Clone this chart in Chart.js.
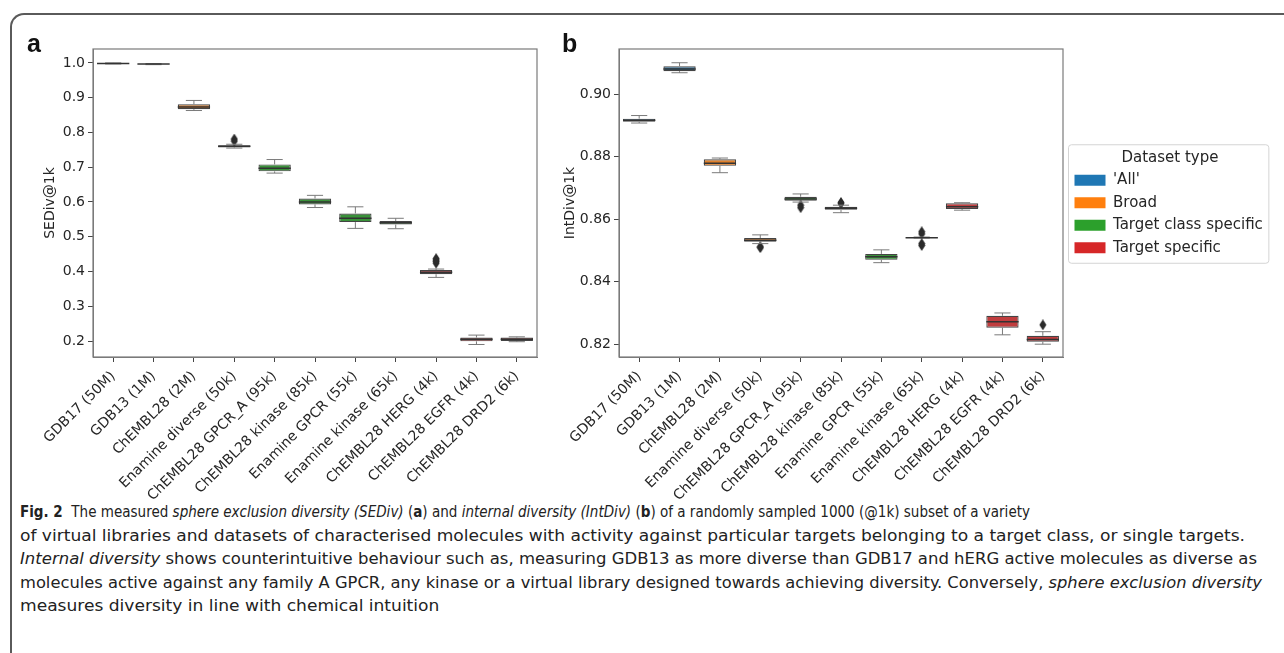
<!DOCTYPE html>
<html>
<head>
<meta charset="utf-8">
<script src="https://cdn.jsdelivr.net/npm/chart.js@4.4.1/dist/chart.umd.min.js"></script>
<style>
  html, body { margin: 0; padding: 0; background: #fff; }
  #page { position: relative; width: 1284px; height: 653px; overflow: hidden; background: #fff; }
  #frame { position: absolute; left: 10px; top: 13px; width: 1400px; height: 800px;
           border-top: 2px solid #5a5a5a; border-left: 2px solid #5a5a5a; border-top-left-radius: 14px; }
  .panel { position: absolute; top: 0; height: 500px; }
  #wrapA { left: 0; width: 560px; }
  #wrapB { left: 548px; width: 736px; }
  .tag { position: absolute; font: bold 25px "Liberation Sans", Arial, sans-serif; color: #111; line-height: 25px; }
  #caption { position: absolute; left: 20px; top: 500px; color: #222;
             font-family: "DejaVu Sans Condensed", "Liberation Sans Narrow", "DejaVu Sans", sans-serif; font-size: 16.5px; }
  #caption div { white-space: nowrap; height: 23.5px; line-height: 23.5px; transform-origin: left center; }
</style>
</head>
<body>
<div id="page">
  <div id="frame"></div>
  <div class="panel" id="wrapA"><canvas id="chartA"></canvas></div>
  <div class="panel" id="wrapB"><canvas id="chartB"></canvas></div>
  <div class="tag" style="left:27px; top:31px;">a</div>
  <div class="tag" style="left:562px; top:31px;">b</div>
  <div id="caption">
    <div><b>Fig. 2</b>&nbsp; The measured <i>sphere exclusion diversity (SEDiv)</i> (<b>a</b>) and <i>internal diversity (IntDiv)</i> (<b>b</b>) of a randomly sampled 1000 (@1k) subset of a variety</div>
    <div>of virtual libraries and datasets of characterised molecules with activity against particular targets belonging to a target class, or single targets.</div>
    <div><i>Internal diversity</i> shows counterintuitive behaviour such as, measuring GDB13 as more diverse than GDB17 and hERG active molecules as diverse as</div>
    <div>molecules active against any family A GPCR, any kinase or a virtual library designed towards achieving diversity. Conversely, <i>sphere exclusion diversity</i></div>
    <div>measures diversity in line with chemical intuition</div>
  </div>
</div>
<script>
// ---- data ----
const categories = ['GDB17 (50M)', 'GDB13 (1M)', 'ChEMBL28 (2M)', 'Enamine diverse (50k)',
  'ChEMBL28 GPCR_A (95k)', 'ChEMBL28 kinase (85k)', 'Enamine GPCR (55k)', 'Enamine kinase (65k)',
  'ChEMBL28 HERG (4k)', 'ChEMBL28 EGFR (4k)', 'ChEMBL28 DRD2 (6k)'];
const datasetTypes = ["'All'", 'Broad', 'Target class specific', 'Target specific'];
const categoryType = [0, 0, 1, 1, 2, 2, 2, 2, 3, 3, 3];
const boxColors = ['#3274a1', '#e1812c', '#3a923a', '#c03d3e'];
const legendColors = ['#1f77b4', '#ff7f0e', '#2ca02c', '#d62728'];

// panel a: SEDiv@1k
const sedLow  = [0.997, 0.995, 0.863, 0.755, 0.683, 0.584, 0.524, 0.523, 0.383, 0.190, 0.198];
const sedQ1   = [0.998, 0.996, 0.867, 0.757, 0.688, 0.593, 0.542, 0.535, 0.392, 0.199, 0.200];
const sedMed  = [0.9985, 0.9965, 0.873, 0.760, 0.697, 0.600, 0.553, 0.540, 0.398, 0.205, 0.205];
const sedQ3   = [0.999, 0.997, 0.881, 0.763, 0.708, 0.610, 0.567, 0.545, 0.404, 0.210, 0.210];
const sedHigh = [1.000, 0.998, 0.892, 0.766, 0.722, 0.619, 0.586, 0.553, 0.407, 0.217, 0.212];
const sedOutliers = [[], [], [], [0.775, 0.781], [], [], [], [], [0.424, 0.429, 0.433, 0.437], [], []];
const sedTicks = [0.2, 0.3, 0.4, 0.5, 0.6, 0.7, 0.8, 0.9, 1.0];
const sedTickLabels = ['0.2', '0.3', '0.4', '0.5', '0.6', '0.7', '0.8', '0.9', '1.0'];

// panel b: IntDiv@1k
const intLow  = [0.8908, 0.9069, 0.8749, 0.8522, 0.8655, 0.8621, 0.8461, 0.8540, 0.8629, 0.8230, 0.8200];
const intQ1   = [0.8912, 0.9074, 0.8771, 0.8528, 0.8659, 0.8630, 0.8470, 0.8541, 0.8633, 0.8253, 0.8208];
const intMed  = [0.8917, 0.9081, 0.8779, 0.8533, 0.8665, 0.8635, 0.8480, 0.8541, 0.8640, 0.8272, 0.8215];
const intQ3   = [0.8922, 0.9090, 0.8792, 0.8540, 0.8672, 0.8640, 0.8489, 0.8542, 0.8651, 0.8291, 0.8227];
const intHigh = [0.8932, 0.9101, 0.8796, 0.8550, 0.8681, 0.8645, 0.8502, 0.8543, 0.8653, 0.8300, 0.8240];
const intOutliers = [[], [], [], [0.8512, 0.8509], [0.8645, 0.8637], [0.8654, 0.8650], [],
  [0.8560, 0.8553, 0.8522, 0.8516], [], [], [0.8262]];
const intTicks = [0.82, 0.84, 0.86, 0.88, 0.90];
const intTickLabels = ['0.82', '0.84', '0.86', '0.88', '0.90'];

// ---- helpers ----
Chart.defaults.font.family = '"DejaVu Sans", sans-serif';
Chart.defaults.color = '#262626';
const tickFont = { size: 14 };

// thin diamond marker, like seaborn's fliers
const diamond = document.createElement('canvas');
diamond.width = 8; diamond.height = 11;
(function () {
  const c = diamond.getContext('2d');
  c.fillStyle = '#2b2b2b';
  c.beginPath();
  c.moveTo(4, 0); c.lineTo(7.5, 5.5); c.lineTo(4, 11); c.lineTo(0.5, 5.5);
  c.closePath(); c.fill();
})();

function boxDatasets(q1, q3) {
  return datasetTypes.map((name, g) => ({
    type: 'bar',
    label: name,
    data: categories.map((c, i) => categoryType[i] === g ? [q1[i], q3[i]] : null),
    backgroundColor: boxColors[g],
    borderColor: '#444',
    borderWidth: 1.2,
    borderSkipped: false,
    grouped: false,
    barPercentage: 0.8,
    categoryPercentage: 1.0,
    order: 2
  }));
}

function flierDataset(outliers) {
  const pts = [];
  outliers.forEach((vals, i) => vals.forEach(v => pts.push({ x: categories[i], y: v })));
  return {
    type: 'line', label: 'outliers', data: pts, showLine: false,
    pointStyle: diamond, pointRadius: 5, order: 0
  };
}

// whiskers, caps and medians, placed through the chart's own scales
const whiskerPlugin = {
  id: 'whiskers',
  afterDatasetsDraw(chart, args, o) {
    const { ctx, scales: { x, y } } = chart;
    const step = x.getPixelForValue(1) - x.getPixelForValue(0);
    const half = step * 0.4, cap = step * 0.2;
    ctx.save();
    o.q1.forEach((q1, i) => {
      const cx = x.getPixelForValue(i);
      ctx.strokeStyle = '#7a7a7a';
      ctx.lineWidth = 1;
      ctx.beginPath();
      ctx.moveTo(cx, y.getPixelForValue(o.q3[i])); ctx.lineTo(cx, y.getPixelForValue(o.high[i]));
      ctx.moveTo(cx, y.getPixelForValue(q1)); ctx.lineTo(cx, y.getPixelForValue(o.low[i]));
      ctx.moveTo(cx - cap, y.getPixelForValue(o.high[i])); ctx.lineTo(cx + cap, y.getPixelForValue(o.high[i]));
      ctx.moveTo(cx - cap, y.getPixelForValue(o.low[i])); ctx.lineTo(cx + cap, y.getPixelForValue(o.low[i]));
      ctx.stroke();
      ctx.strokeStyle = '#333';
      ctx.lineWidth = 1.5;
      ctx.beginPath();
      ctx.moveTo(cx - half, y.getPixelForValue(o.med[i])); ctx.lineTo(cx + half, y.getPixelForValue(o.med[i]));
      ctx.stroke();
    });
    ctx.restore();
  }
};

const framePlugin = {
  id: 'frame',
  afterDraw(chart) {
    const { ctx, chartArea: a } = chart;
    ctx.save();
    ctx.strokeStyle = '#7a7a7a';
    ctx.lineWidth = 1.2;
    ctx.strokeRect(a.left, a.top, a.right - a.left, a.bottom - a.top);
    const lg = chart.legend;
    if (lg && lg.options.display && lg.legendHitBoxes && lg.legendHitBoxes.length) {
      const hb = lg.legendHitBoxes;
      const l = hb[0].left - 6, t = hb[0].top - 28;
      const r = lg.right - 4, b = hb[hb.length - 1].top + hb[hb.length - 1].height + 8;
      ctx.strokeStyle = '#d4d4d4';
      ctx.lineWidth = 1;
      ctx.beginPath();
      ctx.roundRect(l, t, r - l, b - t, 3);
      ctx.stroke();
    }
    ctx.restore();
  }
};

function yScale(min, max, ticks, tickLabels, title, width, titlePad) {
  return {
    min: min, max: max,
    afterBuildTicks: s => { s.ticks = ticks.map(v => ({ value: v })); },
    afterFit: s => { s.width = width; },
    ticks: { callback: (v, i) => tickLabels[i], font: tickFont, padding: 3 },
    grid: { drawOnChartArea: false, tickLength: 5, color: '#444' },
    border: { color: '#7a7a7a' },
    title: { display: true, text: title, font: { size: 14 }, padding: { top: titlePad, bottom: 0 } }
  };
}

const xScale = {
  type: 'category',
  offset: true,
  afterFit: s => { s.height = 143; },
  ticks: { autoSkip: false, maxRotation: 45, minRotation: 45, font: tickFont, padding: 6 },
  grid: { drawOnChartArea: false, offset: false, tickLength: 5, color: '#444' },
  border: { color: '#7a7a7a' }
};

// ---- panel a ----
new Chart(document.getElementById('chartA'), {
  type: 'bar',
  data: { labels: categories, datasets: [...boxDatasets(sedQ1, sedQ3), flierDataset(sedOutliers)] },
  options: {
    responsive: true, maintainAspectRatio: false, animation: false,
    layout: { padding: { top: 49, left: 30, right: 23, bottom: 0 } },
    plugins: {
      legend: { display: false },
      tooltip: { enabled: false },
      whiskers: { low: sedLow, q1: sedQ1, med: sedMed, q3: sedQ3, high: sedHigh }
    },
    scales: { x: xScale, y: yScale(0.154, 1.04, sedTicks, sedTickLabels, 'SEDiv@1k', 63, 12) }
  },
  plugins: [whiskerPlugin, framePlugin]
});

// ---- panel b ----
const legendSize = 15;
const mctx = document.createElement('canvas').getContext('2d');
mctx.font = legendSize + 'px "DejaVu Sans", sans-serif';
const maxTextW = Math.max(...datasetTypes.map(t => mctx.measureText(t).width));
const legendW = 7.5 + 31 + legendSize / 2 + maxTextW + 10;
const padRightB = Math.max(0, 736 - (1063 - 548) - 4 - legendW);

new Chart(document.getElementById('chartB'), {
  type: 'bar',
  data: { labels: categories, datasets: [...boxDatasets(intQ1, intQ3), flierDataset(intOutliers)] },
  options: {
    responsive: true, maintainAspectRatio: false, animation: false,
    layout: { padding: { top: 49, left: 10, right: padRightB, bottom: 0 } },
    plugins: {
      legend: {
        position: 'right', fullSize: false, align: 'center', maxWidth: 260,
        title: { display: true, text: 'Dataset type', font: { size: legendSize, lineHeight: 1.0 }, padding: { top: 7, bottom: 0 } },
        labels: {
          boxWidth: 31, boxHeight: 11, padding: 7.5, font: { size: legendSize },
          generateLabels: () => datasetTypes.map((t, g) => ({
            text: t, fillStyle: legendColors[g], strokeStyle: legendColors[g],
            lineWidth: 0, hidden: false, datasetIndex: g
          }))
        }
      },
      tooltip: { enabled: false },
      whiskers: { low: intLow, q1: intQ1, med: intMed, q3: intQ3, high: intHigh }
    },
    scales: {
      x: xScale,
      y: yScale(0.8159, 0.9145, intTicks, intTickLabels, 'IntDiv@1k', 61, 4),
      gap: {
        type: 'linear', position: 'right', display: true,
        grid: { display: false }, ticks: { display: false }, border: { display: false },
        afterFit: s => { s.width = 4; }
      }
    }
  },
  plugins: [whiskerPlugin, framePlugin]
});

// caption: each line squeezed to the width it has in the figure
const lineWidths = [1010, 1225, 1237, 1242];
const lines = document.querySelectorAll('#caption div');
const factors = [];
lines.forEach((el, i) => {
  const inner = document.createElement('span');
  while (el.firstChild) inner.appendChild(el.firstChild);
  el.appendChild(inner);
  const w = inner.getBoundingClientRect().width;
  const f = i < lineWidths.length ? lineWidths[i] / w : factors[1];
  factors.push(f);
  el.style.transform = 'scaleX(' + f + ')';
});
</script>
</body>
</html>
